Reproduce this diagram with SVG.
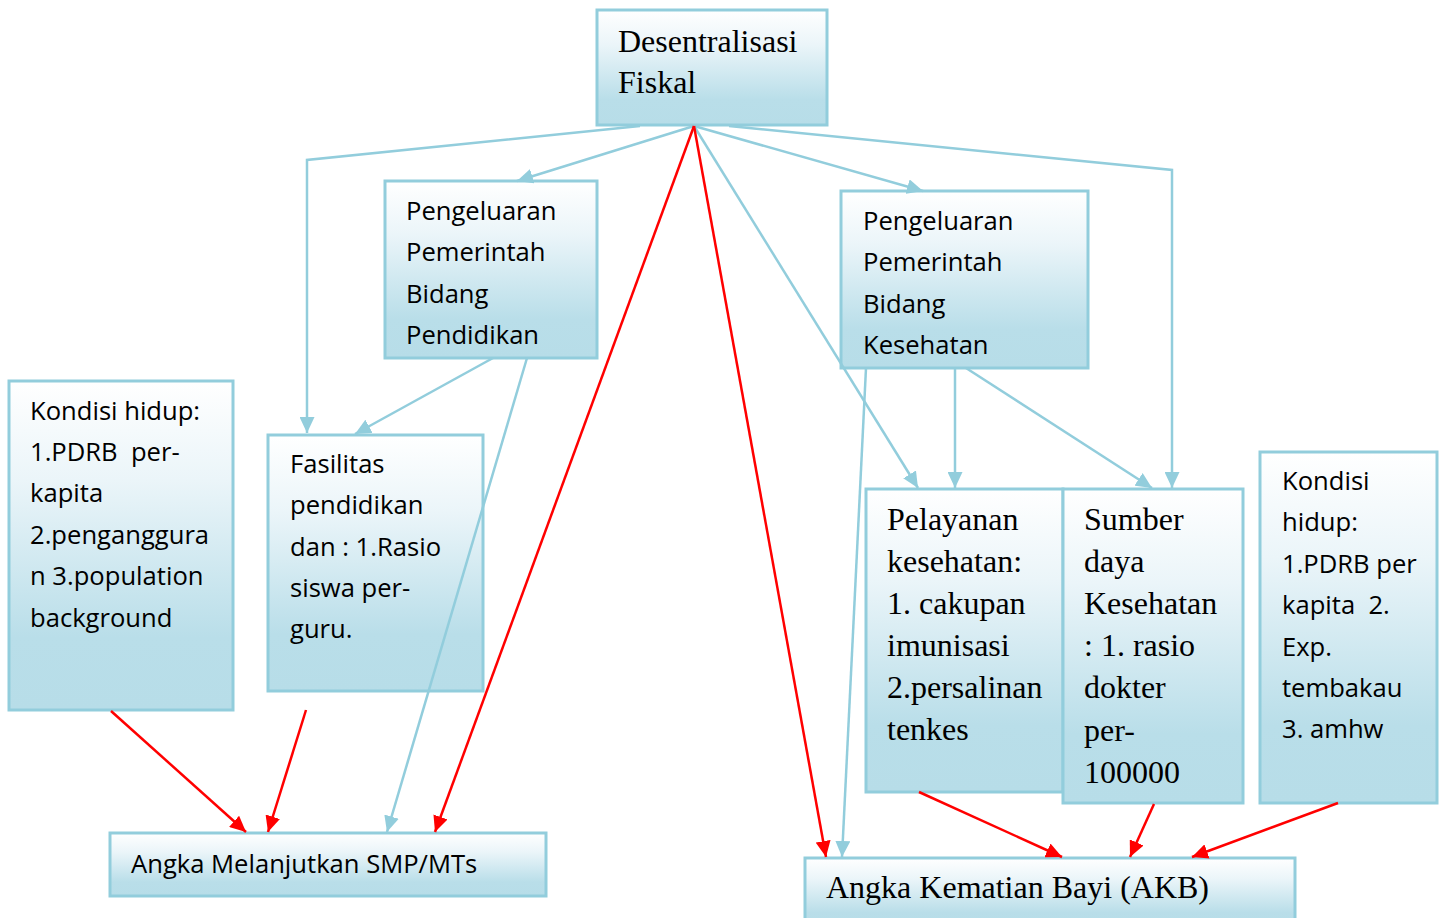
<svg xmlns="http://www.w3.org/2000/svg" width="1447" height="918" viewBox="0 0 1447 918">
<defs>
<linearGradient id="g" x1="0" y1="0" x2="0" y2="1">
<stop offset="0" stop-color="#FFFFFF"/>
<stop offset="0.3" stop-color="#EBF5F9"/>
<stop offset="0.78" stop-color="#B9DEE9"/>
<stop offset="1" stop-color="#B7DDE8"/>
</linearGradient>
<marker id="ab" markerUnits="userSpaceOnUse" markerWidth="17" markerHeight="15" refX="16" refY="7.5" orient="auto">
<path d="M0,0 L16,7.5 L0,15 Z" fill="#92CDDC"/>
</marker>
<marker id="ar" markerUnits="userSpaceOnUse" markerWidth="17" markerHeight="15" refX="16" refY="7.5" orient="auto">
<path d="M0,0 L16,7.5 L0,15 Z" fill="#FF0000"/>
</marker>
</defs>
<style>
.box{fill:url(#g);stroke:#92CDDC;stroke-width:3}
.s{font-family:"Open Sans","Noto Sans",sans-serif;font-size:25.6px;fill:#000}
.t{font-family:"Liberation Serif","Times New Roman",serif;font-size:32px;fill:#000}
.cb{fill:none;stroke:#92CDDC;stroke-width:2.5;marker-end:url(#ab)}
.cr{fill:none;stroke:#FF0000;stroke-width:2.5;marker-end:url(#ar)}
</style>
<g id="n-desentralisasi">
<rect class="box" x="597" y="10" width="230" height="115"/>
<text class="t" x="618" y="52">Desentralisasi</text>
<text class="t" x="618" y="93">Fiskal</text>
</g>
<g id="n-pendidikan">
<rect class="box" x="385" y="181" width="212" height="177"/>
<text class="s" x="406" y="220">Pengeluaran</text>
<text class="s" x="406" y="261">Pemerintah</text>
<text class="s" x="406" y="303">Bidang</text>
<text class="s" x="406" y="344">Pendidikan</text>
</g>
<g id="n-kesehatan">
<rect class="box" x="841" y="191" width="247" height="177"/>
<text class="s" x="863" y="230">Pengeluaran</text>
<text class="s" x="863" y="271">Pemerintah</text>
<text class="s" x="863" y="313">Bidang</text>
<text class="s" x="863" y="354">Kesehatan</text>
</g>
<g id="n-kondisi-kiri">
<rect class="box" x="9" y="381" width="224" height="329"/>
<text class="s" x="30" y="420">Kondisi hidup:</text>
<text class="s" x="30" y="461" xml:space="preserve">1.PDRB  per-</text>
<text class="s" x="30" y="502">kapita</text>
<text class="s" x="30" y="544">2.penganggura</text>
<text class="s" x="30" y="585">n 3.population</text>
<text class="s" x="30" y="627">background</text>
</g>
<g id="n-fasilitas">
<rect class="box" x="268" y="435" width="215" height="256"/>
<text class="s" x="290" y="473">Fasilitas</text>
<text class="s" x="290" y="514">pendidikan</text>
<text class="s" x="290" y="556">dan : 1.Rasio</text>
<text class="s" x="290" y="597">siswa per-</text>
<text class="s" x="290" y="638">guru.</text>
</g>
<g id="n-pelayanan">
<rect class="box" x="866" y="489" width="197" height="303"/>
<text class="t" x="887" y="530">Pelayanan</text>
<text class="t" x="887" y="572">kesehatan:</text>
<text class="t" x="887" y="614">1. cakupan</text>
<text class="t" x="887" y="656">imunisasi</text>
<text class="t" x="887" y="698">2.persalinan</text>
<text class="t" x="887" y="740">tenkes</text>
</g>
<g id="n-sumber">
<rect class="box" x="1063" y="489" width="180" height="314"/>
<text class="t" x="1084" y="530">Sumber</text>
<text class="t" x="1084" y="572">daya</text>
<text class="t" x="1084" y="614">Kesehatan</text>
<text class="t" x="1084" y="656">: 1. rasio</text>
<text class="t" x="1084" y="698">dokter</text>
<text class="t" x="1084" y="741">per-</text>
<text class="t" x="1084" y="783">100000</text>
</g>
<g id="n-kondisi-kanan">
<rect class="box" x="1260" y="452" width="177" height="351"/>
<text class="s" x="1282" y="490">Kondisi</text>
<text class="s" x="1282" y="531">hidup:</text>
<text class="s" x="1282" y="573">1.PDRB per</text>
<text class="s" x="1282" y="614" xml:space="preserve">kapita  2.</text>
<text class="s" x="1282" y="656">Exp.</text>
<text class="s" x="1282" y="697">tembakau</text>
<text class="s" x="1282" y="738">3. amhw</text>
</g>
<g id="n-angka-melanjutkan">
<rect class="box" x="110" y="833" width="436" height="63"/>
<text class="s" x="131" y="873">Angka Melanjutkan SMP/MTs</text>
</g>
<g id="n-akb">
<rect class="box" x="805" y="858" width="490" height="70"/>
<text class="t" x="826" y="898">Angka Kematian Bayi (AKB)</text>
</g>
<g id="connectors">
<polyline class="cb" points="640,126 307,160 307,433"/>
<polyline class="cb" points="729,126 1172,170 1172,488"/>
<line class="cb" x1="694" y1="126" x2="517" y2="181"/>
<line class="cb" x1="694" y1="126" x2="923" y2="191"/>
<line class="cb" x1="694" y1="126" x2="918" y2="488"/>
<line class="cb" x1="955" y1="368" x2="955" y2="488"/>
<line class="cb" x1="966" y1="368" x2="1152" y2="488"/>
<line class="cb" x1="866" y1="368" x2="842" y2="857"/>
<line class="cb" x1="493" y1="358" x2="355" y2="434"/>
<line class="cb" x1="527" y1="358" x2="387" y2="832"/>
<line class="cr" x1="694" y1="126" x2="435" y2="832"/>
<line class="cr" x1="694" y1="126" x2="826" y2="857"/>
<line class="cr" x1="111" y1="711" x2="246" y2="832"/>
<line class="cr" x1="306" y1="710" x2="268" y2="832"/>
<line class="cr" x1="919" y1="792" x2="1062" y2="857"/>
<line class="cr" x1="1154" y1="804" x2="1130" y2="857"/>
<line class="cr" x1="1338" y1="803" x2="1192" y2="857"/>
</g>
</svg>
